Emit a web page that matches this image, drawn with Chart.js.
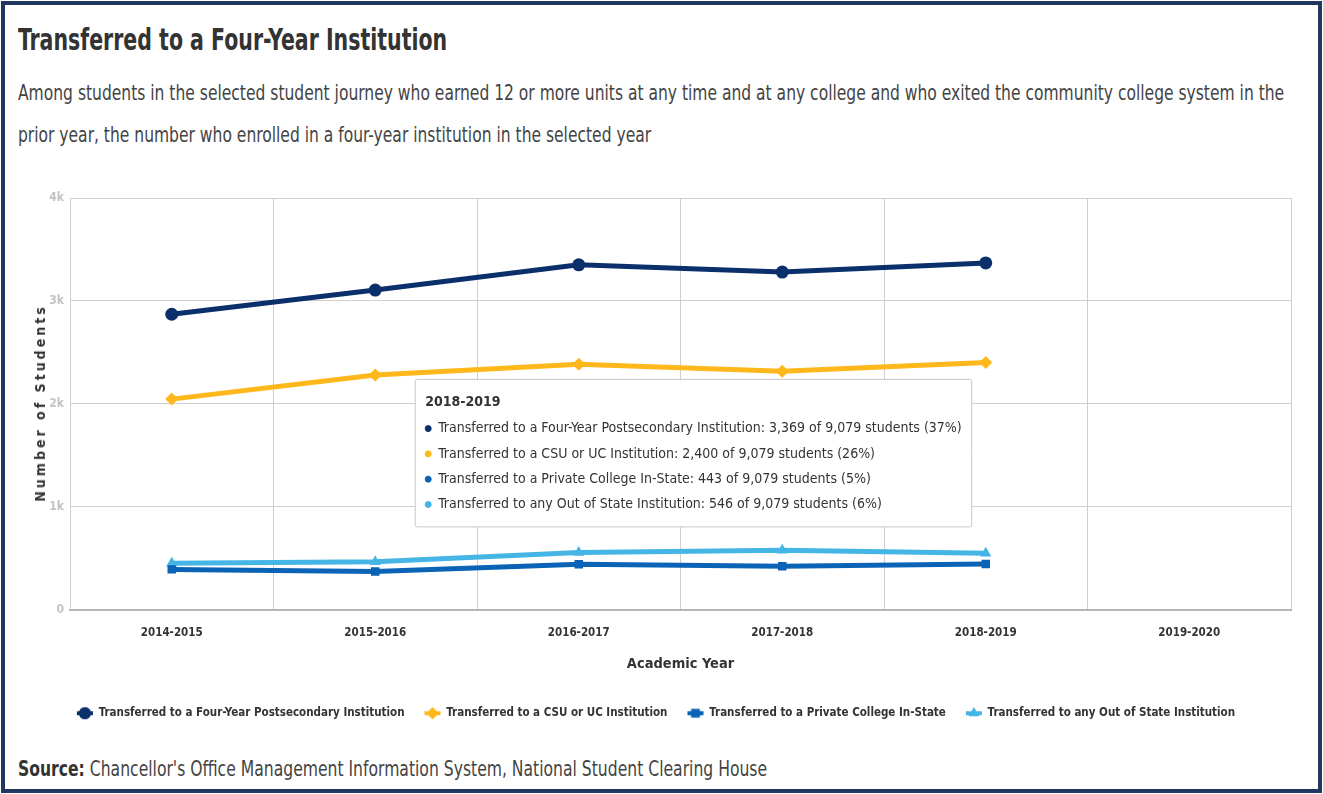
<!DOCTYPE html>
<html>
<head>
<meta charset="utf-8">
<script src="https://cdn.jsdelivr.net/npm/chart.js@4/dist/chart.umd.min.js"></script>
<style>
  html, body { margin: 0; padding: 0; background: #fff; }
  body { width: 1323px; height: 794px; position: relative; overflow: hidden;
         font-family: "DejaVu Sans Condensed", "DejaVu Sans", sans-serif; color: #333; }
  .frame { position: absolute; left: 1px; top: 1px; width: 1321px; height: 792px;
           box-sizing: border-box; border: 4px solid #22375e; }
  .narrow { transform-origin: 0 50%; white-space: nowrap; }
  .title { position: absolute; left: 18px; top: 22px; font-size: 30px; font-weight: bold; color: #333;
           transform: scaleX(0.76); }
  .subtitle { position: absolute; left: 18px; top: 72px; font-size: 21px; line-height: 42px; color: #444;
              transform: scaleX(0.822); transform-origin: 0 0; white-space: nowrap; }
  .chart-box { position: absolute; left: 0; top: 180px; width: 1323px; height: 549px; }
  .ytitle { position: absolute; left: 40px; top: 403px; transform: translate(-50%, -50%) rotate(-90deg);
            font-size: 14px; font-weight: bold; letter-spacing: 3px; color: #333; white-space: nowrap; }
  .source { position: absolute; left: 18px; top: 757px; font-size: 21px; color: #444; transform: scaleX(0.826); }
  .source b { color: #333; }
</style>
</head>
<body>
<div class="frame"></div>
<div class="title narrow">Transferred to a Four-Year Institution</div>
<div class="subtitle">Among students in the selected student journey who earned 12 or more units at any time and at any college and who exited the community college system in the<br>prior year, the number who enrolled in a four-year institution in the selected year</div>
<div class="chart-box"><canvas id="transferChart"></canvas></div>
<div class="ytitle">Number of Students</div>
<div class="source narrow"><b>Source:</b> Chancellor's Office Management Information System, National Student Clearing House</div>

<script>
const years = ['2014-2015', '2015-2016', '2016-2017', '2017-2018', '2018-2019', '2019-2020'];
const fourYear = [2870, 3105, 3350, 3280, 3369, null];
const csuUc = [2045, 2280, 2385, 2315, 2400, null];
const privateInState = [390, 370, 440, 420, 443, null];
const outOfState = [450, 465, 555, 575, 546, null];
// cohort size per year (only the 2018-2019 one is shown in the picture)
const cohortTotals = [null, null, null, null, 9079, null];
const yTicks = [0, 1000, 2000, 3000, 4000];

Chart.defaults.font.family = '"DejaVu Sans Condensed", "DejaVu Sans", sans-serif';
Chart.defaults.color = '#333';

// little "line + marker" symbol for the legend
function legendSymbol(color, style) {
  const c = document.createElement('canvas');
  c.width = 18; c.height = 14;
  const g = c.getContext('2d');
  g.strokeStyle = color; g.lineWidth = 4;
  g.beginPath(); g.moveTo(1, 7); g.lineTo(17, 7); g.stroke();
  g.fillStyle = color;
  Chart.helpers.drawPoint(g, { pointStyle: style, radius: 6, rotation: 0, borderWidth: 0 }, 9, 7);
  g.fill();
  return c;
}

Chart.Tooltip.positioners.leftOfPoint = function(items) {
  if (!items.length) return false;
  const el = items[0].element;
  const area = this.chart.chartArea;
  return { x: el.x - 14, y: area.top + (area.bottom - area.top) * 0.62 };
};

const series = [
  { label: 'Transferred to a Four-Year Postsecondary Institution', data: fourYear, color: '#0b2f6b', style: 'circle' },
  { label: 'Transferred to a CSU or UC Institution', data: csuUc, color: '#ffb81c', style: 'rectRot' },
  { label: 'Transferred to a Private College In-State', data: privateInState, color: '#0a63b5', style: 'rect' },
  { label: 'Transferred to any Out of State Institution', data: outOfState, color: '#45b5e6', style: 'triangle' }
];

const ctx = document.getElementById('transferChart').getContext('2d');
const chart = new Chart(ctx, {
  type: 'line',
  data: {
    labels: years,
    datasets: series.map(s => ({
      label: s.label, data: s.data,
      borderColor: s.color, backgroundColor: s.color,
      borderWidth: 5, tension: 0,
      pointStyle: s.style, pointRadius: s.style === 'rect' ? 6 : 6.5,
      pointBorderWidth: 0, pointHoverRadius: 6.5
    }))
  },
  options: {
    responsive: true, maintainAspectRatio: false, animation: false, events: [],
    layout: { padding: { left: 21, right: 32, top: 18, bottom: 0 } },
    scales: {
      x: {
        offset: true,
        grid: { offset: true, color: '#cfcfcf', drawTicks: false },
        border: { color: '#b5b5b5', width: 2 },
        ticks: { padding: 17, color: '#333', font: { size: 11.5, weight: 'bold' } },
        title: { display: true, text: 'Academic Year', color: '#333', font: { size: 14.5, weight: 'bold' }, padding: { top: 0, bottom: 15 } },
        afterFit: s => { s.height = 78; }
      },
      y: {
        min: 0, max: 4000,
        afterBuildTicks: s => { s.ticks = yTicks.map(v => ({ value: v })); },
        grid: { color: '#cfcfcf', drawTicks: false },
        border: { color: '#cfcfcf' },
        ticks: { padding: 6, color: '#c3c3c3', font: { size: 12, weight: 'bold' },
                 callback: v => v === 0 ? '0' : (v / 1000) + 'k' },
        afterFit: s => { s.width = 49; }
      }
    },
    plugins: {
      legend: {
        position: 'bottom',
        labels: {
          padding: 20, color: '#333', font: { size: 11.5, weight: 'bold' },
          usePointStyle: true, pointStyleWidth: 16,
          generateLabels: ch => ch.data.datasets.map((d, i) => ({
            text: d.label, datasetIndex: i, fontColor: '#333',
            pointStyle: legendSymbol(series[i].color, series[i].style),
            fillStyle: series[i].color, strokeStyle: series[i].color, lineWidth: 0, hidden: false
          }))
        }
      },
      tooltip: {
        position: 'leftOfPoint', xAlign: 'right', yAlign: 'center',
        caretSize: 0, caretPadding: 0, cornerRadius: 2,
        backgroundColor: 'rgba(255,255,255,0.97)', borderColor: '#c8c8c8', borderWidth: 1,
        titleColor: '#333', bodyColor: '#333',
        titleFont: { size: 14, weight: 'bold' }, bodyFont: { size: 14 },
        titleMarginBottom: 9, bodySpacing: 8.5, padding: { top: 15, bottom: 14, left: 10, right: 10 },
        usePointStyle: true, boxWidth: 6, boxHeight: 6, boxPadding: 5,
        callbacks: {
          labelPointStyle: () => ({ pointStyle: 'circle', rotation: 0 }),
          labelColor: item => ({ borderColor: series[item.datasetIndex].color, backgroundColor: series[item.datasetIndex].color, borderWidth: 0 }),
          label: item => {
            const total = cohortTotals[item.dataIndex];
            const v = item.parsed.y;
            return `${item.dataset.label}: ${v.toLocaleString('en-US')} of ${total.toLocaleString('en-US')} students (${Math.round(v / total * 100)}%)`;
          }
        }
      }
    }
  }
});

const shown = 4;
chart.tooltip.setActiveElements(series.map((s, i) => ({ datasetIndex: i, index: shown })), { x: 0, y: 0 });
chart.update();
</script>
</body>
</html>
